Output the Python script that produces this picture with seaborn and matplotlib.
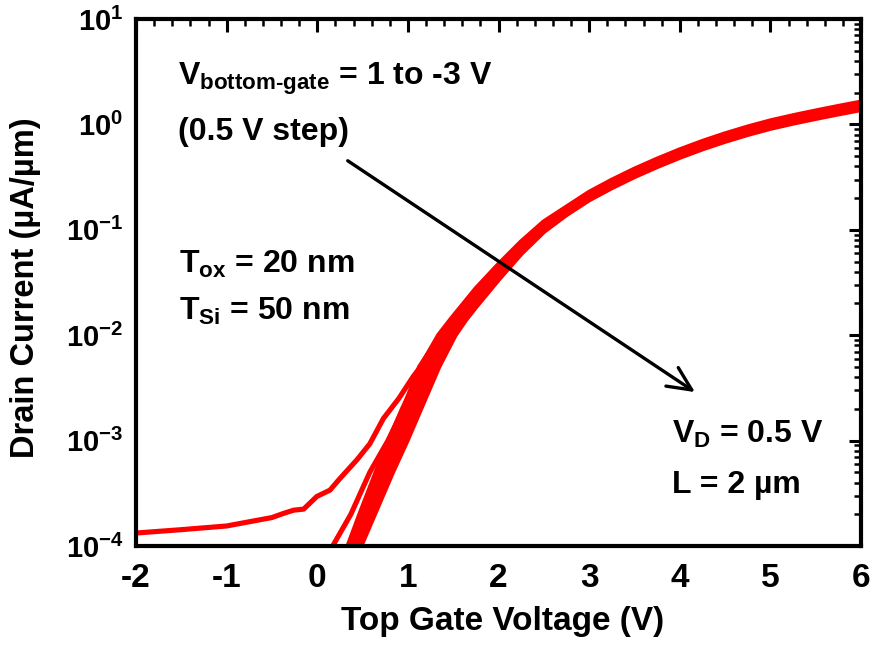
import numpy as np
import pandas as pd
import matplotlib
matplotlib.use("Agg")
import matplotlib.pyplot as plt
import seaborn as sns
from matplotlib import font_manager as fm
from matplotlib.ticker import LogLocator, NullFormatter, MultipleLocator

# ---------------- data ----------------
vbg_values = [1.0, 0.5, 0.0, -0.5, -1.0, -1.5, -2.0, -2.5, -3.0]

# --- lower part (subthreshold)
# Vbg = 1 V curve (with leakage floor): own points (Vg, log10 I)
vg_leak_low = [-2.0, -1.5, -1.0, -0.5, -0.37, -0.26, -0.15, -0.005, 0.14, 0.25, 0.44, 0.58,
               0.73, 0.90, 1.06, 1.14, 1.34, 1.475]
log_leak_low = [-3.877, -3.845, -3.81, -3.73, -3.69, -3.66, -3.65, -3.53, -3.47, -3.36, -3.18, -3.03,
                -2.79, -2.60, -2.39, -2.30, -2.0, -1.85]

# other curves: Vg at which each reaches these current levels (log10 uA/um)
log_levels = [-4.15, -4.0, -3.7, -3.3, -3.0, -2.7, -2.3, -2.0, -1.85]
vg_low_p05 = [0.10, 0.17, 0.37, 0.58, 0.78, 0.95, 1.13, 1.36, 1.495]
vg_low_0   = [0.275, 0.34, 0.47, 0.65, 0.79, 0.94, 1.16, 1.38, 1.515]
vg_low_m05 = [0.295, 0.363, 0.497, 0.68, 0.823, 0.973, 1.19, 1.403, 1.537]
vg_low_m1  = [0.318, 0.387, 0.523, 0.71, 0.857, 1.007, 1.22, 1.427, 1.558]
vg_low_m15 = [0.34, 0.41, 0.55, 0.74, 0.89, 1.04, 1.25, 1.45, 1.58]
vg_low_m2  = [0.362, 0.433, 0.577, 0.77, 0.923, 1.073, 1.28, 1.473, 1.60]
vg_low_m25 = [0.383, 0.457, 0.603, 0.80, 0.957, 1.107, 1.31, 1.497, 1.62]
vg_low_m3  = [0.405, 0.48, 0.63, 0.83, 0.99, 1.14, 1.34, 1.52, 1.64]

# --- upper part (above threshold): log10 current at these gate voltages
vg_high = [1.75, 2.0, 2.25, 2.5, 2.75, 3.0, 3.25, 3.5, 3.75, 4.0, 4.25, 4.5, 4.75, 5.0,
           5.25, 5.5, 5.75, 6.0]
log_high_p1  = [-1.56, -1.33, -1.115, -0.925, -0.785, -0.645, -0.53, -0.425, -0.33, -0.242,
                -0.162, -0.09, -0.025, 0.033, 0.082, 0.127, 0.17, 0.211]
log_high_p05 = [-1.581, -1.347, -1.129, -0.936, -0.794, -0.654, -0.539, -0.434, -0.339, -0.251,
                -0.171, -0.099, -0.034, 0.024, 0.073, 0.118, 0.161, 0.202]
log_high_0   = [-1.602, -1.365, -1.142, -0.947, -0.802, -0.662, -0.547, -0.442, -0.347, -0.259,
                -0.179, -0.107, -0.042, 0.016, 0.065, 0.11, 0.153, 0.194]
log_high_m05 = [-1.624, -1.382, -1.156, -0.959, -0.811, -0.671, -0.556, -0.451, -0.356, -0.268,
                -0.188, -0.116, -0.051, 0.007, 0.056, 0.101, 0.144, 0.185]
log_high_m1  = [-1.645, -1.40, -1.17, -0.97, -0.82, -0.68, -0.565, -0.46, -0.365, -0.277,
                -0.197, -0.125, -0.06, -0.002, 0.047, 0.092, 0.135, 0.176]
log_high_m15 = [-1.666, -1.418, -1.184, -0.981, -0.829, -0.689, -0.574, -0.469, -0.374, -0.286,
                -0.206, -0.134, -0.069, -0.011, 0.038, 0.083, 0.126, 0.167]
log_high_m2  = [-1.688, -1.435, -1.198, -0.993, -0.838, -0.698, -0.583, -0.478, -0.383, -0.295,
                -0.215, -0.143, -0.078, -0.02, 0.029, 0.074, 0.117, 0.158]
log_high_m25 = [-1.709, -1.453, -1.211, -1.004, -0.846, -0.706, -0.591, -0.486, -0.391, -0.303,
                -0.223, -0.151, -0.086, -0.028, 0.021, 0.066, 0.109, 0.15]
log_high_m3  = [-1.73, -1.47, -1.225, -1.015, -0.855, -0.715, -0.60, -0.495, -0.40, -0.312,
                -0.232, -0.16, -0.095, -0.037, 0.012, 0.057, 0.10, 0.141]

x_ticks = [-2, -1, 0, 1, 2, 3, 4, 5, 6]
y_decades = [-4, -3, -2, -1, 0, 1]

# ---------------- build long-form table ----------------
low_parts = [(vg_leak_low, log_leak_low)] + [
    (arr, log_levels) for arr in [vg_low_p05, vg_low_0, vg_low_m05, vg_low_m1, vg_low_m15,
                                  vg_low_m2, vg_low_m25, vg_low_m3]]
high_parts = [log_high_p1, log_high_p05, log_high_0, log_high_m05, log_high_m1,
              log_high_m15, log_high_m2, log_high_m25, log_high_m3]

rows = []
for vbg, (vlo, llo), lhi in zip(vbg_values, low_parts, high_parts):
    for v, li in zip(vlo, llo):
        rows.append((vbg, v, 10 ** li))
    for v, li in zip(vg_high, lhi):
        rows.append((vbg, v, 10 ** li))
df = pd.DataFrame(rows, columns=["Vbg", "Vg", "Id"])

# ---------------- style ----------------
sns.set_style("white")


def has_font(name):
    try:
        fm.findfont(fm.FontProperties(family=name), fallback_to_default=False)
        return True
    except Exception:
        return False


base = "Liberation Sans"
narrow = "Liberation Sans Narrow" if has_font("Liberation Sans Narrow") else base
plt.rcParams["font.family"] = [base, "DejaVu Sans"]
plt.rcParams["font.weight"] = "bold"
plt.rcParams["text.color"] = "black"
plt.rcParams["axes.labelcolor"] = "black"
plt.rcParams["xtick.color"] = "black"
plt.rcParams["ytick.color"] = "black"
plt.rcParams["mathtext.fontset"] = "custom"
plt.rcParams["mathtext.rm"] = base + ":bold"
plt.rcParams["mathtext.it"] = base + ":bold"
plt.rcParams["mathtext.bf"] = base + ":bold"
plt.rcParams["mathtext.sf"] = base + ":bold"

fig = plt.figure(figsize=(8.73, 6.46), dpi=100)
ax = fig.add_axes([0.1558, 0.1548, 0.8305, 0.8158])

sns.lineplot(data=df, x="Vg", y="Id", units="Vbg", estimator=None, sort=True,
             color="#ff0000", linewidth=3.7, legend=False, ax=ax)
for ln in ax.get_lines():
    ln.set_solid_joinstyle("round")

ax.set_yscale("log")
ax.set_xlim(-2, 6)
ax.set_ylim(1e-4, 10)

for sp in ax.spines.values():
    sp.set_visible(True)
    sp.set_linewidth(3.0)
    sp.set_color("black")

ax.set_xticks(x_ticks, [str(t) for t in x_ticks], fontsize=24, fontweight="bold",
              family=narrow, color="black")
ax.xaxis.set_minor_locator(MultipleLocator(0.2))
ax.set_yticks([10.0 ** d for d in y_decades], [r"$10^{%d}$" % d for d in y_decades],
              fontsize=21, color="black")
ax.yaxis.set_minor_locator(LogLocator(base=10, subs=np.arange(2, 10), numticks=20))
ax.yaxis.set_minor_formatter(NullFormatter())

ax.tick_params(which="major", direction="in", length=9, width=2.2, top=True, right=True,
               color="black")
ax.tick_params(which="minor", direction="in", length=5, width=1.8, top=True, right=True,
               color="black")
ax.tick_params(axis="x", which="major", pad=12)
ax.tick_params(axis="y", which="major", pad=9)

ax.set_xlabel("Top Gate Voltage (V)", fontsize=24, fontweight="bold", family=narrow,
              color="black")
ax.set_ylabel("Drain Current (µA/µm)", fontsize=23.5, fontweight="bold", color="black")
ax.xaxis.label.set_va("center")
ax.xaxis.set_label_coords(0.506, -0.144)
ax.yaxis.label.set_va("center")
ax.yaxis.set_label_coords(-0.153, 0.49)

tkw = dict(transform=ax.transAxes, fontsize=23, fontweight="bold", ha="left",
           va="baseline", color="black")
ax.text(0.058, 0.875, "$V_{bottom\u2010gate}$ = 1 to -3 V", **tkw)
ax.text(0.058, 0.770, "(0.5 V step)", **tkw)
ax.text(0.059, 0.518, "$T_{ox}$ = 20 nm", **tkw)
ax.text(0.059, 0.429, "$T_{Si}$ = 50 nm", **tkw)
ax.text(0.739, 0.195, "$V_{D}$ = 0.5 V", **tkw)
ax.text(0.739, 0.101, "L = 2 µm", **tkw)

ax.annotate("", xy=(0.771, 0.292), xytext=(0.292, 0.731),
            xycoords="axes fraction", textcoords="axes fraction",
            arrowprops=dict(arrowstyle="->,head_length=0.85,head_width=0.4",
                            mutation_scale=20, lw=2.4, color="black",
                            shrinkA=0, shrinkB=0))

fig.savefig("out.png", dpi=100)
